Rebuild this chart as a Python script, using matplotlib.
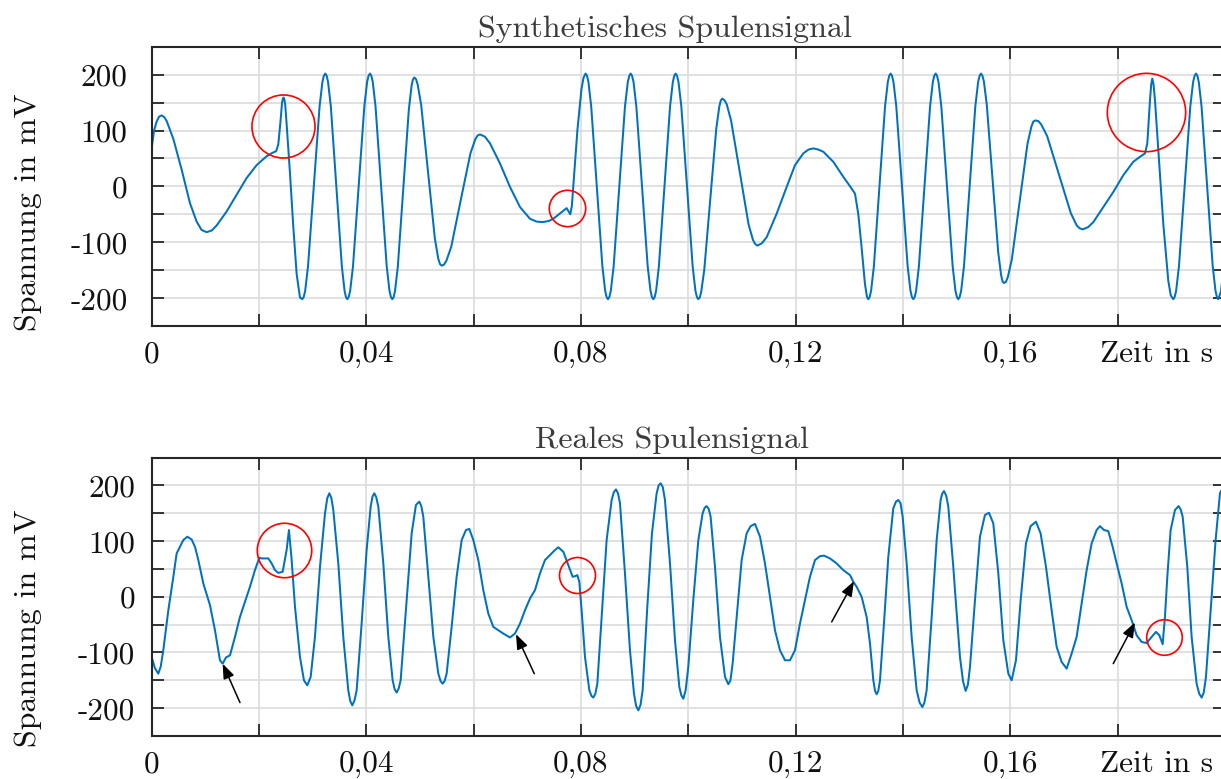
import numpy as np
import matplotlib.pyplot as plt

plt.rcParams['font.family'] = ['cmr10', 'DejaVu Serif']
plt.rcParams['axes.unicode_minus'] = False

# Synthetisches Spulensignal: (Zeit in ms, Spannung in mV)
syn_signal = [
    (0, 68), (0.45, 100), (0.93, 116), (1.4, 125), (1.86, 127), (2.35, 124), (2.80, 117),
    (4.04, 85), (5.59, 30), (7.14, -30), (8.38, -63), (9.30, -78), (10.25, -82),
    (11.20, -79), (12.11, -70), (13.97, -45), (15.84, -15), (17.70, 15), (19.56, 38),
    (21.43, 54), (22.50, 60), (23.20, 63), (23.60, 75), (23.97, 112),
    (24.30, 150), (24.45, 157), (24.60, 159), (24.75, 155), (24.90, 145), (25.15, 112),
    (25.78, 23), (26.40, -73), (27.02, -157), (27.64, -199), (28.07, -202),
    (28.34, -198), (28.61, -187), (29.14, -143), (30.22, 0), (31.29, 143), (31.82, 187), (32.09, 198), (32.36, 202),
    (32.62, 198), (32.87, 187), (33.39, 143), (34.41, 0), (35.44, -143), (35.95, -187), (36.20, -198), (36.46, -202),
    (36.72, -198), (36.99, -187), (37.52, -143), (38.57, 0), (39.63, 143), (40.15, 187), (40.42, 198), (40.68, 202),
    (40.94, 198), (41.20, 187), (41.72, 143), (42.76, 0), (43.80, -143), (44.32, -187), (44.58, -198), (44.84, -202),
    (45.10, -198), (45.35, -187), (45.87, -144), (46.89, -3), (47.92, 137), (48.43, 180), (48.68, 191), (48.94, 195),
    (49.26, 192), (49.58, 182), (50.22, 146), (51.49, 26), (52.77, -93), (53.40, -129), (53.72, -139), (54.04, -142),
    (54.49, -140), (54.93, -133), (55.83, -108), (57.61, -24), (59.40, 59), (60.29, 84), (60.73, 91), (61.18, 93),
    (62.10, 89), (63.05, 77), (64.91, 41), (66.77, -1), (68.64, -37), (70.50, -58), (71.70, -63), (72.86, -64),
    (74.00, -62), (74.85, -58), (76.40, -46), (77.33, -39), (78.01, -50),
    (78.30, -35), (78.57, 0), (79.34, 101), (80.10, 175), (80.49, 195), (80.87, 202),
    (81.13, 198), (81.39, 187), (81.91, 143), (82.95, 0), (83.99, -143), (84.51, -187), (84.77, -198), (85.03, -202),
    (85.29, -198), (85.56, -187), (86.09, -143), (87.15, 0), (88.20, 143), (88.73, 187), (89.00, 198), (89.26, 202),
    (89.52, 198), (89.79, 187), (90.32, 143), (91.37, 0), (92.43, -143), (92.96, -187), (93.22, -198), (93.48, -202),
    (93.74, -198), (94.00, -187), (94.52, -143), (95.56, 0), (96.60, 143), (97.12, 187), (97.38, 198), (97.64, 202),
    (97.90, 198), (98.17, 187), (98.70, 143), (99.75, 0), (100.81, -143), (101.33, -187), (101.60, -198), (101.86, -202),
    (102.14, -199), (102.42, -188), (102.98, -149), (104.10, -22), (105.22, 104), (105.78, 143), (106.06, 154), (106.34, 157),
    (106.75, 154), (107.16, 147), (107.97, 118), (109.60, 25), (111.23, -68), (112.05, -96), (112.45, -103), (112.86, -106),
    (113.70, -102), (114.60, -91), (116.46, -49), (118.33, -1), (119.88, 38), (121.43, 59), (122.40, 66), (123.30, 68),
    (124.20, 66), (125.16, 62), (127.02, 44), (128.89, 17), (130.44, -4), (131.06, -13), (131.68, -50), (132.30, -110),
    (132.92, -175), (133.30, -198), (133.54, -202),
    (133.80, -198), (134.06, -187), (134.58, -143), (135.62, 0), (136.66, 143), (137.18, 187), (137.44, 198), (137.70, 202),
    (137.96, 198), (138.23, 187), (138.76, 143), (139.82, 0), (140.87, -143), (141.40, -187), (141.67, -198), (141.93, -202),
    (142.19, -198), (142.45, -187), (142.97, -143), (144.01, 0), (145.05, 143), (145.57, 187), (145.83, 198), (146.09, 202),
    (146.35, 198), (146.62, 187), (147.15, 143), (148.20, 0), (149.26, -143), (149.78, -187), (150.05, -198), (150.31, -202),
    (150.57, -198), (150.84, -187), (151.37, -143), (152.43, 0), (153.48, 143), (154.01, 187), (154.28, 198), (154.54, 202),
    (154.81, 198), (155.08, 188), (155.61, 147), (156.68, 14), (157.75, -118), (158.29, -159), (158.55, -170), (158.82, -173),
    (159.19, -171), (159.55, -162), (160.28, -131), (161.74, -27), (163.20, 76), (163.93, 107), (164.29, 116), (164.66, 118),
    (165.21, 117), (165.76, 111), (166.87, 90), (169.07, 21), (171.28, -48), (172.38, -70), (172.93, -75), (173.48, -77),
    (174.50, -73), (175.47, -64), (177.33, -37), (179.20, -10), (181.06, 20), (182.92, 44), (184.16, 53), (185.10, 59),
    (185.53, 77), (186.03, 154), (186.25, 182), (186.46, 193), (186.70, 182), (186.96, 154), (187.58, 65),
    (188.51, -67), (189.44, -169), (189.90, -195), (190.37, -202),
    (190.63, -198), (190.90, -187), (191.43, -143), (192.49, 0), (193.54, 143), (194.07, 187), (194.34, 198), (194.60, 202),
    (194.86, 198), (195.12, 187), (195.64, 143), (196.68, 0), (197.72, -143), (198.24, -187), (198.50, -198), (198.76, -202),
    (199.26, -188), (200.0, -122),
]

# Reales Spulensignal: (Zeit in ms, Spannung in mV)
real_signal = [
    (0, -108), (0.6, -128), (1.24, -138), (1.7, -125), (2.17, -96), (3.11, -24), (4.04, 36), (4.66, 78),
    (5.28, 90), (5.90, 102), (6.65, 108), (7.45, 103), (8.07, 90), (8.70, 66), (9.63, 24),
    (10.87, -15), (11.80, -60), (12.73, -114), (13.23, -120), (13.85, -109), (14.60, -105), (15.53, -72),
    (16.46, -36), (17.39, -9), (18.32, 18), (19.25, 48), (20.06, 70), (20.50, 69), (21.74, 69), (22.36, 60),
    (22.98, 48), (23.60, 43), (24.41, 45), (25.15, 84), (25.59, 120), (26.09, 66), (26.71, -18),
    (27.64, -108), (28.38, -150), (29.00, -159), (29.63, -144), (30.43, -72), (31.37, 54), (32.30, 150),
    (32.72, 177), (33.10, 186), (33.48, 178), (33.85, 156), (34.78, 60), (35.71, -72),
    (36.64, -168), (37.00, -187), (37.39, -195), (37.80, -186), (38.20, -168), (39.13, -48), (40.06, 84),
    (40.81, 162), (41.15, 180), (41.49, 186), (41.85, 179), (42.24, 162), (43.17, 60), (44.10, -72), (44.91, -150),
    (45.28, -166), (45.65, -172), (46.02, -165), (46.40, -150), (47.51, -6), (48.45, 114), (49.25, 165), (49.87, 171),
    (50.25, 163), (50.62, 144), (51.55, 36), (52.49, -72), (53.42, -138), (53.82, -151), (54.22, -156), (54.60, -151),
    (54.97, -138), (55.90, -54), (56.83, 36), (57.77, 102), (58.57, 120), (59.19, 122),
    (59.94, 102), (60.87, 66), (61.80, 12), (62.73, -30), (63.67, -54), (64.60, -60), (65.53, -66), (66.77, -73),
    (67.70, -66), (68.64, -48), (69.57, -24), (70.50, -3), (71.43, 12), (72.36, 42), (73.29, 66), (74.23, 75),
    (75.15, 84), (75.78, 89), (76.71, 81), (77.64, 57), (78.45, 36), (78.88, 37),
    (79.32, 39), (79.69, 27), (80.12, -24), (80.75, -108), (81.56, -168), (81.95, -178), (82.30, -181), (82.68, -174),
    (83.05, -156), (83.85, -36), (84.78, 102), (85.72, 174), (86.12, 188), (86.52, 193),
    (86.90, 186), (87.27, 168), (88.20, 42), (89.13, -96), (89.88, -174), (90.28, -196), (90.69, -204), (91.10, -194),
    (91.49, -168), (92.36, -18), (93.23, 114), (94.10, 186), (94.47, 200), (94.85, 204), (95.25, 197), (95.65, 174),
    (96.59, 60), (97.52, -78), (98.33, -162), (98.70, -177), (99.07, -183), (99.50, -168),
    (100.0, -126), (100.93, -6), (101.87, 102), (102.67, 150), (103.05, 160), (103.42, 163), (103.80, 158), (104.16, 144),
    (104.97, 54), (105.90, -72), (106.84, -144), (107.46, -157), (107.85, -150), (108.26, -120), (109.13, -24),
    (109.94, 66), (110.87, 114), (111.62, 127), (112.43, 131), (113.36, 108), (114.29, 60), (115.22, 0), (116.15, -60),
    (117.08, -96), (118.02, -114), (118.95, -114), (119.88, -96), (120.81, -48), (121.74, -6), (122.67, 36),
    (123.61, 66), (124.54, 73), (125.28, 74), (126.40, 69), (127.64, 60), (128.88, 48), (130.13, 39), (130.75, 27),
    (131.37, 18), (132.30, 0), (133.23, -36), (133.86, -84), (134.48, -150),
    (134.80, -169), (135.10, -175), (135.40, -169), (135.72, -150), (136.46, -48), (137.27, 72), (138.20, 159),
    (138.70, 171), (139.13, 174), (139.55, 168), (139.94, 144), (140.69, 60), (141.62, -72), (142.55, -168),
    (143.10, -190), (143.61, -198), (144.00, -190), (144.41, -168), (145.35, -36), (146.28, 102), (147.02, 174),
    (147.30, 185), (147.64, 190), (148.05, 182), (148.45, 162), (149.38, 54), (149.69, 12),
    (150.62, -108), (151.20, -152), (151.68, -169), (152.10, -158), (152.49, -126), (153.42, -6), (154.35, 108),
    (155.28, 147), (156.03, 151), (156.83, 132), (157.77, 42), (158.70, -78),
    (159.63, -138), (160.25, -150), (161.06, -114), (161.93, -6), (162.92, 96), (163.79, 127), (164.78, 135),
    (165.65, 114), (166.65, 54), (167.70, -24), (168.64, -90), (169.57, -117), (170.50, -129), (171.43, -102),
    (172.36, -72), (173.30, -12), (174.23, 48), (175.16, 96), (176.09, 120), (176.71, 127),
    (177.46, 120), (178.26, 118), (179.07, 90), (179.82, 60), (180.75, 24), (181.68, -18), (182.61, -42),
    (183.54, -69), (184.47, -81), (185.41, -83), (186.34, -72), (187.15, -63), (187.77, -69), (188.39, -85),
    (188.82, -36), (189.26, 36), (189.88, 120), (190.69, 156), (191.37, 163), (191.75, 157), (192.12, 144),
    (192.98, 54), (193.79, -72), (194.72, -156), (195.20, -174), (195.66, -181), (196.05, -172), (196.46, -144),
    (197.33, -24), (198.26, 102), (199.07, 186), (199.26, 190), (200.0, 198),
]

# Markierungen: Kreise (Zeit ms, Spannung mV, Durchmesser pt), Pfeile (von -> nach)
syn_circles = [(24.41, 108, 45.4), (77.45, -39, 26.2), (185.22, 133, 56.4)]
real_circles = [(24.72, 84, 39.2), (79.32, 40, 25.9), (188.70, -72, 25.6)]
real_arrows = [((16.46, -190), (13.23, -120)), ((71.30, -138), (67.89, -67)),
               ((126.72, -45), (130.87, 28)), ((179.19, -120), (183.23, -46))]

x_ticks = [0, 0.02, 0.04, 0.06, 0.08, 0.10, 0.12, 0.14, 0.16, 0.18]
x_labels = ['0', '', '0,04', '', '0,08', '', '0,12', '', '0,16', '']
y_ticks = [-200, -150, -100, -50, 0, 50, 100, 150, 200]
y_labels = ['-200', '', '-100', '', '0', '', '100', '', '200']

blue = '#0072BD'
dark = '#262626'

fig = plt.figure(figsize=(12.21, 7.79), dpi=100)
ax1 = fig.add_axes([0.1242, 0.5815, 0.87904, 0.3585])
ax2 = fig.add_axes([0.1242, 0.0552, 0.87904, 0.3573])


def style(ax, title, tx, ylab_y, ypad):
    ax.set_xlim(0, 0.2)
    ax.set_ylim(-250, 250)
    ax.set_xticks(x_ticks)
    ax.set_xticklabels(x_labels)
    ax.set_yticks(y_ticks)
    ax.set_yticklabels(y_labels)
    ax.grid(True, color='#dcdcdc', lw=1.2)
    ax.set_axisbelow(True)
    ax.tick_params(direction='in', length=8.4, width=1.3, top=True, right=True,
                   color=dark, labelsize=22.5, labelcolor='#111111')
    ax.tick_params(axis='x', pad=10.2)
    ax.tick_params(axis='y', pad=ypad)
    for s in ax.spines.values():
        s.set_linewidth(1.5)
        s.set_color(dark)
    ax.text(tx, 1.0347, title, transform=ax.transAxes, ha='center', va='baseline',
            fontsize=23, color='#3c3c3c')
    ax.set_ylabel('Spannung in mV', fontsize=23, color='#111111')
    ax.yaxis.set_label_coords(-0.1025, ylab_y)
    ax.annotate('Zeit in s', xy=(0.9364, 0), xycoords='axes fraction',
                xytext=(0, -10.2), textcoords='offset points',
                ha='center', va='top', fontsize=22.5, color='#111111')


style(ax1, 'Synthetisches Spulensignal', 0.478, 0.406, 17.3)
style(ax2, 'Reales Spulensignal', 0.485, 0.388, 12.0)

for ax, sig in [(ax1, syn_signal), (ax2, real_signal)]:
    t_ms, u_mv = zip(*sig)
    ax.plot(np.array(t_ms) / 1000, u_mv, color=blue, lw=1.45)

for ax, circles in [(ax1, syn_circles), (ax2, real_circles)]:
    for t, u, d in circles:
        ax.plot(t / 1000, u, 'o', ms=d, mfc='none', mec='red', mew=1.2, zorder=5)

for (t0, u0), (t1, u1) in real_arrows:
    ax2.annotate('', xy=(t1 / 1000, u1), xytext=(t0 / 1000, u0),
                 arrowprops=dict(arrowstyle='-|>,head_length=0.45,head_width=0.17',
                                 mutation_scale=20, color='black', lw=1.1,
                                 shrinkA=0, shrinkB=0), zorder=6)

fig.savefig('out.png', dpi=100)
